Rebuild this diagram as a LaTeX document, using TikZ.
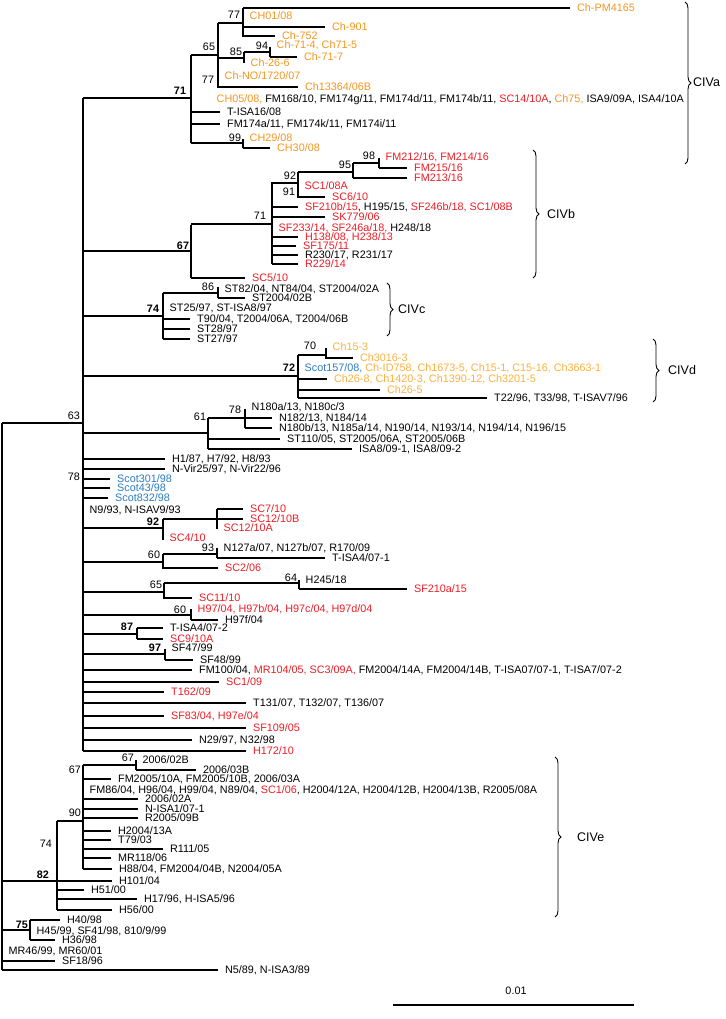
\documentclass[tikz,border=0pt]{standalone}
\usepackage{fontspec}
\setmainfont{Liberation Sans}
\usetikzlibrary{decorations.pathreplacing}
\definecolor{civaOrange}{HTML}{F7941D}
\definecolor{civdYellow}{HTML}{FBB03B}
\definecolor{isaRed}{HTML}{ED1C24}
\definecolor{scotBlue}{HTML}{2B7BBF}
\newcommand{\orn}[1]{\textcolor{civaOrange}{#1}}
\newcommand{\ylw}[1]{\textcolor{civdYellow}{#1}}
\newcommand{\rdd}[1]{\textcolor{isaRed}{#1}}
\newcommand{\blu}[1]{\textcolor{scotBlue}{#1}}
\newcommand{\fs}{\fontsize{10.8}{12}\selectfont}
% leaf: name, x start, x end, y, text
\newcommand{\leaf}[5]{\draw[br] (#2,#4) -- (#3,#4) node[lab] (#1) {#5};}
% leaf with no branch of its own
\newcommand{\zleaf}[4]{\node[lab] (#1) at (#2,#3) {#4};}
\tikzset{
  br/.style={line width=1.3pt},
  lab/.style={anchor=west, font=\fs, inner xsep=6.5pt, inner ysep=0pt,
    text height=7.7pt, text depth=0pt},
  sup/.style={font=\fs, inner sep=0pt},
  bsup/.style={sup, font=\fs\bfseries},
  cladebrace/.style={decorate, decoration={brace, amplitude=6pt}, line width=0.9pt},
  cladename/.style={anchor=west, font=\fontsize{12.5}{14}\selectfont, inner sep=0pt}
}

\begin{document}
\begin{tikzpicture}[x=1pt,y=-1pt]
  \useasboundingbox (0,0) rectangle (725,1019);
  % root and backbone
  \draw[br] (2,423) -- (2,970) (2,423) -- (83,423) (83,98) -- (83,751);
  \node[sup] (s63) at (74,416) {63};

  % CIVa
  \draw[br] (83,98) -- (191,98) (191,55) -- (191,143);
  \node[bsup] (s71a) at (180,91) {71};
  \draw[br] (191,55) -- (218,55) (218,23) -- (218,88);
  \node[sup] (s65a) at (209,47) {65};
  \draw[br] (218,23) -- (243,23) (243,8) -- (243,37);
  \node[sup] (s77a) at (234,15) {77};
  \leaf{chpm}{243}{570}{8}{\orn{Ch-PM4165}}
  \zleaf{ch01}{243}{16}{\orn{CH01/08}}
  \leaf{ch901}{243}{325}{27}{\orn{Ch-901}}
  \leaf{ch752}{243}{275}{36}{\orn{Ch-752}}
  \draw[br] (218,58) -- (244,58) (244,52) -- (244,63);
  \node[sup] (s85) at (236,52) {85};
  \draw[br] (244,52) -- (270,52) (270,47) -- (270,57);
  \node[sup] (s94) at (262,46) {94};
  \zleaf{ch714}{270}{45}{\orn{Ch-71-4, Ch71-5}}
  \leaf{ch717}{270}{297}{57}{\orn{Ch-71-7}}
  \zleaf{ch266}{244}{63}{\orn{Ch-26-6}}
  \node[sup] (s77b) at (208,80) {77};
  \zleaf{chno}{218}{76}{\orn{Ch-NO/1720/07}}
  \leaf{ch133}{218}{298}{87}{\orn{Ch13364/06B}}
  \zleaf{ch05}{210}{99}{\orn{CH05/08,} FM168/10, FM174g/11, FM174d/11, FM174b/11, \rdd{SC14/10A}, \orn{Ch75,} ISA9/09A, ISA4/10A}
  \leaf{tisa16}{191}{220}{112}{T-ISA16/08}
  \leaf{fm174a}{191}{220}{124}{FM174a/11, FM174k/11, FM174i/11}
  \draw[br] (191,143) -- (243,143) (243,139) -- (243,148);
  \node[sup] (s99) at (235,138) {99};
  \zleaf{ch29}{243}{138}{\orn{CH29/08}}
  \leaf{ch30}{243}{270}{148}{\orn{CH30/08}}
  \draw[cladebrace] (685,2) -- (685,164);
  \node[cladename] (civa) at (693,82) {CIVa};

  % CIVb
  \draw[br] (83,251) -- (191,251) (191,225) -- (191,278);
  \node[bsup] (s67) at (183,246) {67};
  \draw[br] (191,224) -- (272,224) (272,182) -- (272,264);
  \node[sup] (s71b) at (260,216) {71};
  \draw[br] (272,183) -- (298,183) (298,172) -- (298,198);
  \node[sup] (s92) at (290,176) {92};
  \draw[br] (298,172) -- (353,172) (353,163) -- (353,178);
  \node[sup] (s95) at (345,165) {95};
  \draw[br] (353,163) -- (379,163) (379,158) -- (379,168);
  \node[sup] (s98) at (369,156) {98};
  \zleaf{fm212}{379}{157}{\rdd{FM212/16, FM214/16}}
  \leaf{fm215}{379}{407}{168}{\rdd{FM215/16}}
  \leaf{fm213}{353}{407}{178}{\rdd{FM213/16}}
  \node[sup] (s91) at (289,192) {91};
  \zleaf{sc108a}{298}{186}{\rdd{SC1/08A}}
  \leaf{sc610}{298}{325}{197}{\rdd{SC6/10}}
  \leaf{sf210b}{272}{298}{207}{\rdd{SF210b/15}, H195/15, \rdd{SF246b/18, SC1/08B}}
  \leaf{sk779}{272}{325}{217}{\rdd{SK779/06}}
  \zleaf{sf233}{272}{228}{\rdd{SF233/14, SF246a/18,} H248/18}
  \leaf{h138}{272}{298}{237}{\rdd{H138/08, H238/13}}
  \leaf{sf175}{272}{296}{246}{\rdd{SF175/11}}
  \leaf{r230}{272}{298}{255}{R230/17, R231/17}
  \leaf{r229}{272}{298}{264}{\rdd{R229/14}}
  \leaf{sc510}{191}{245}{278}{\rdd{SC5/10}}
  \draw[cladebrace] (533,150) -- (533,278);
  \node[cladename] (civb) at (547,214) {CIVb};

  % CIVc
  \draw[br] (83,316) -- (163,316) (163,293) -- (163,339);
  \node[bsup] (s74c) at (153,309) {74};
  \draw[br] (163,293) -- (218,293) (218,287) -- (218,298);
  \node[sup] (s86) at (208,287) {86};
  \zleaf{st82}{218}{289}{ST82/04, NT84/04, ST2004/02A}
  \leaf{st02b}{218}{245}{298}{ST2004/02B}
  \zleaf{st25}{163}{308}{ST25/97, ST-ISA8/97}
  \leaf{t90}{163}{190}{319}{T90/04, T2004/06A, T2004/06B}
  \leaf{st28}{163}{190}{329}{ST28/97}
  \leaf{st27}{163}{190}{339}{ST27/97}
  \draw[cladebrace] (387,283) -- (387,336);
  \node[cladename] (civc) at (398,309) {CIVc};

  % CIVd
  \draw[br] (83,376) -- (298,376) (298,355) -- (298,398);
  \node[bsup] (s72) at (289,368) {72};
  \draw[br] (298,355) -- (326,355) (326,348) -- (326,359);
  \node[sup] (s70) at (310,346) {70};
  \zleaf{ch153}{326}{347}{\ylw{Ch15-3}}
  \leaf{ch3016}{326}{353}{358}{\ylw{Ch3016-3}}
  \zleaf{scot157}{298}{368}{\blu{Scot157/08,} \ylw{Ch-ID758, Ch1673-5, Ch15-1, C15-16, Ch3663-1}}
  \leaf{ch268}{298}{327}{379}{\ylw{Ch26-8, Ch1420-3, Ch1390-12, Ch3201-5}}
  \leaf{ch265}{298}{380}{390}{\ylw{Ch26-5}}
  \leaf{t22}{298}{487}{398}{T22/96, T33/98, T-ISAV7/96}
  \draw[cladebrace] (653,339) -- (653,402);
  \node[cladename] (civd) at (668,370) {CIVd};

  % middle part of the tree
  \draw[br] (83,433) -- (208,433) (208,418) -- (208,449);
  \node[sup] (s61) at (200,417) {61};
  \draw[br] (208,418) -- (245,418) (245,409) -- (245,428);
  \node[sup] (s78n) at (235,410) {78};
  \zleaf{n180a}{245}{407}{N180a/13, N180c/3}
  \leaf{n182}{245}{272}{418}{N182/13, N184/14}
  \leaf{n180b}{245}{272}{428}{N180b/13, N185a/14, N190/14, N193/14, N194/14, N196/15}
  \leaf{st110}{208}{280}{439}{ST110/05, ST2005/06A, ST2005/06B}
  \leaf{isa8}{208}{352}{449}{ISA8/09-1, ISA8/09-2}
  \leaf{h187}{83}{165}{459}{H1/87, H7/92, H8/93}
  \leaf{nvir}{83}{165}{469}{N-Vir25/97, N-Vir22/96}
  \node[sup] (s78s) at (74,477) {78};
  \leaf{scot301}{83}{110}{479}{\blu{Scot301/98}}
  \leaf{scot43}{83}{110}{488}{\blu{Scot43/98}}
  \leaf{scot832}{83}{108}{498}{\blu{Scot832/98}}
  \zleaf{n993}{83}{510}{N9/93, N-ISAV9/93}
  \draw[br] (83,528) -- (163,528) (163,519) -- (163,540);
  \node[bsup] (s92b) at (153,522) {92};
  \draw[br] (163,519) -- (217,519) (217,509) -- (217,529);
  \leaf{sc710}{217}{243}{509}{\rdd{SC7/10}}
  \leaf{sc1210b}{217}{243}{519}{\rdd{SC12/10B}}
  \zleaf{sc1210a}{217}{528}{\rdd{SC12/10A}}
  \zleaf{sc410}{163}{538}{\rdd{SC4/10}}
  \draw[br] (83,562) -- (163,562) (163,554) -- (163,569);
  \node[sup] (s60a) at (154,555) {60};
  \draw[br] (163,554) -- (217,554) (217,548) -- (217,558);
  \node[sup] (s93) at (208,548) {93};
  \zleaf{n127}{217}{548}{N127a/07, N127b/07, R170/09}
  \leaf{tisa41}{217}{325}{558}{T-ISA4/07-1}
  \leaf{sc206}{163}{218}{568}{\rdd{SC2/06}}
  \draw[br] (83,592) -- (164,592) (164,583) -- (164,599);
  \node[sup] (s65b) at (156,585) {65};
  \draw[br] (164,583) -- (299,583) (299,580) -- (299,589);
  \node[sup] (s64) at (291,578) {64};
  \zleaf{h245}{299}{580}{H245/18}
  \leaf{sf210a}{299}{407}{589}{\rdd{SF210a/15}}
  \leaf{sc1110}{164}{192}{598}{\rdd{SC11/10}}
  \draw[br] (83,615) -- (191,615) (191,609) -- (191,620);
  \node[sup] (s60b) at (180,610) {60};
  \zleaf{h97}{191}{609}{\rdd{H97/04, H97b/04, H97c/04, H97d/04}}
  \leaf{h97f}{191}{218}{620}{H97f/04}
  \draw[br] (83,634) -- (137,634) (137,628) -- (137,639);
  \node[bsup] (s87) at (127,627) {87};
  \leaf{tisa42}{137}{163}{628}{T-ISA4/07-2}
  \leaf{sc910a}{137}{163}{639}{\rdd{SC9/10A}}
  \draw[br] (83,654) -- (165,654) (165,649) -- (165,660);
  \node[bsup] (s97) at (155,648) {97};
  \zleaf{sf47}{165}{648}{SF47/99}
  \leaf{sf48}{165}{193}{660}{SF48/99}
  \leaf{fm100}{83}{192}{670}{FM100/04, \rdd{MR104/05, SC3/09A,} FM2004/14A, FM2004/14B, T-ISA07/07-1, T-ISA7/07-2}
  \leaf{sc109}{83}{219}{682}{\rdd{SC1/09}}
  \leaf{t162}{83}{164}{692}{\rdd{T162/09}}
  \leaf{t131}{83}{246}{703}{T131/07, T132/07, T136/07}
  \leaf{sf83}{83}{164}{716}{\rdd{SF83/04, H97e/04}}
  \leaf{sf109}{83}{246}{728}{\rdd{SF109/05}}
  \leaf{n29}{83}{192}{740}{N29/97, N32/98}
  \leaf{h172}{83}{246}{751}{\rdd{H172/10}}

  % CIVe
  \draw[br] (83,765) -- (83,869);
  \node[sup] (s67e) at (75,770) {67};
  \draw[br] (83,765) -- (136,765) (136,760) -- (136,770);
  \node[sup] (s67f) at (128,758) {67};
  \zleaf{y02b}{136}{760}{2006/02B}
  \leaf{y03b}{136}{196}{770}{2006/03B}
  \leaf{fm2005}{83}{111}{779}{FM2005/10A, FM2005/10B, 2006/03A}
  \zleaf{fm86}{83}{790}{FM86/04, H96/04, H99/04, N89/04, \rdd{SC1/06}, H2004/12A, H2004/12B, H2004/13B, R2005/08A}
  \leaf{y02a}{83}{138}{799}{2006/02A}
  \leaf{nisa1}{83}{138}{809}{N-ISA1/07-1}
  \leaf{r2005}{83}{138}{818}{R2005/09B}
  \leaf{h2004}{83}{111}{831}{H2004/13A}
  \leaf{t79}{83}{111}{840}{T79/03}
  \leaf{r111}{83}{163}{849}{R111/05}
  \leaf{mr118}{83}{111}{858}{MR118/06}
  \leaf{h88}{83}{112}{869}{H88/04, FM2004/04B, N2004/05A}
  \draw[br] (57,821) -- (83,821) (57,821) -- (57,910);
  \node[sup] (s90) at (75,813) {90};
  \node[sup] (s74e) at (46,844) {74};
  \draw[br] (2,881) -- (57,881);
  \node[bsup] (s82) at (43,875) {82};
  \leaf{h101}{57}{112}{881}{H101/04}
  \leaf{h51}{57}{84}{890}{H51/00}
  \leaf{h17}{57}{137}{899}{H17/96, H-ISA5/96}
  \leaf{h56}{57}{112}{910}{H56/00}
  \draw[cladebrace] (555,757) -- (555,917);
  \node[cladename] (cive) at (577,837) {CIVe};

  % basal lineages
  \draw[br] (2,930) -- (30,930) (30,920) -- (30,940);
  \node[bsup] (s75) at (22,925) {75};
  \leaf{h40}{30}{60}{920}{H40/98}
  \zleaf{h45}{30}{931}{H45/99, SF41/98, 810/9/99}
  \leaf{h36}{30}{55}{940}{H36/98}
  \zleaf{mr46}{2}{951}{MR46/99, MR60/01}
  \leaf{sf18}{2}{55}{961}{SF18/96}
  \leaf{n589}{2}{218}{970}{N5/89, N-ISA3/89}

  % scale bar
  \draw[line width=1.4pt] (393,1005) coordinate (bar0) -- (634,1005) coordinate (bar1);
  \node[sup] (scale) at (516,991) {0.01};
\end{tikzpicture}
\end{document}
